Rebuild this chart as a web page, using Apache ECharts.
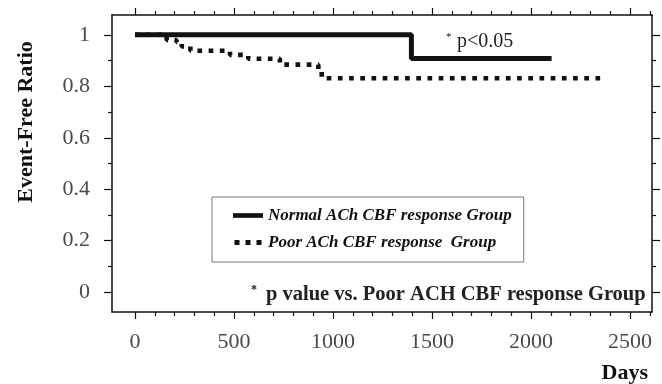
<!DOCTYPE html>
<html>
<head>
<meta charset="utf-8">
<script src="https://cdn.jsdelivr.net/npm/echarts@6/dist/echarts.min.js"></script>
<style>
  html, body { margin: 0; padding: 0; background: #fff; }
  #main { width: 662px; height: 384px; }
</style>
</head>
<body>
<div id="main"></div>
<script>
// Kaplan-Meier step curves (day, event-free ratio)
const normalDays = [0, 1396, 2104];
const normalRatio = [1, 0.908, 0.908];
const poorDays = [0, 160, 210, 236, 280, 480, 572, 732, 926, 943, 2382];
const poorRatio = [1, 0.98, 0.972, 0.955, 0.938, 0.922, 0.907, 0.884, 0.864, 0.831, 0.831];

const xMajor = [0, 500, 1000, 1500, 2000, 2500];
const xMinor = [100, 200, 300, 400, 600, 700, 800, 900, 1100, 1200, 1300, 1400,
                1600, 1700, 1800, 1900, 2100, 2200, 2300, 2400, 2600];
const yMajor = [0, 0.2, 0.4, 0.6, 0.8, 1];
const yMinor = [0.1, 0.3, 0.5, 0.7, 0.9];

const normalName = 'Normal ACh CBF response Group';
const poorName = 'Poor ACh CBF response  Group';

const serif = "'Liberation Serif', 'Times New Roman', serif";

function pairs(xs, ys) {
  return xs.map((x, i) => [x, ys[i]]);
}

function xAx(pos, values, len, main) {
  return {
    type: 'value', position: pos, min: -116, max: 2611,
    axisLine: { show: main, onZero: false, lineStyle: { color: '#111', width: 1.5 } },
    axisTick: { show: true, customValues: values, length: len, lineStyle: { color: '#111', width: 1.2 } },
    axisLabel: (main && pos === 'bottom')
      ? { show: true, customValues: xMajor, margin: 19, color: '#4a4a4a', fontFamily: serif, fontSize: 22,
          formatter: v => String(v) }
      : { show: false },
    splitLine: { show: false }
  };
}

function yAx(pos, values, len, main) {
  return {
    type: 'value', position: pos, min: -0.077, max: 1.077,
    axisLine: { show: main, onZero: false, lineStyle: { color: '#111', width: 1.5 } },
    axisTick: { show: true, customValues: values, length: len, lineStyle: { color: '#111', width: 1.2 } },
    axisLabel: (main && pos === 'left')
      ? { show: true, customValues: yMajor, margin: 22, color: '#4a4a4a', fontFamily: serif, fontSize: 22,
          formatter: v => String(v) }
      : { show: false },
    splitLine: { show: false }
  };
}

let chart = echarts.init(document.getElementById('main'));
chart.setOption({
  animation: false,
  backgroundColor: '#fff',
  grid: { left: 112, right: 10, top: 15, bottom: 72 },
  xAxis: [
    xAx('bottom', xMajor, 7, true),
    xAx('bottom', xMinor, 4, false),
    xAx('top', xMajor, 7, true),
    xAx('top', xMinor, 4, false)
  ],
  yAxis: [
    yAx('left', yMajor, 8, true),
    yAx('left', yMinor, 4, false),
    yAx('right', yMajor, 8, true),
    yAx('right', yMinor, 4, false)
  ],
  legend: {
    data: [
      { name: normalName, icon: 'path://M0,0H32V5H0Z' },
      { name: poorName, icon: 'path://M0,0H5V5H0Z M11,0H16V5H11Z M22,0H27V5H22Z' }
    ],
    orient: 'vertical',
    left: 212, top: 197,
    padding: [10, 12, 11, 21],
    itemGap: 10,
    itemWidth: 30, itemHeight: 5,
    borderColor: '#777', borderWidth: 1,
    textStyle: { fontFamily: serif, fontSize: 17, fontWeight: 'bold', fontStyle: 'italic', color: '#111' }
  },
  series: [
    {
      name: poorName,
      type: 'line',
      step: 'end',
      symbol: 'none',
      lineStyle: { color: '#111', width: 4.6, type: [4.7, 6.5] },
      itemStyle: { color: '#111' },
      data: pairs(poorDays, poorRatio)
    },
    {
      name: normalName,
      type: 'line',
      step: 'end',
      symbol: 'none',
      lineStyle: { color: '#111', width: 5 },
      itemStyle: { color: '#111' },
      data: pairs(normalDays, normalRatio)
    }
  ],
  graphic: [
    {
      type: 'text', x: 26, y: 122, rotation: Math.PI / 2,
      style: { text: 'Event-Free Ratio', font: 'bold 22px ' + serif, fill: '#111',
               textAlign: 'center', textVerticalAlign: 'middle' }
    },
    {
      type: 'text', x: 648, y: 373,
      style: { text: 'Days', font: 'bold 22px ' + serif, fill: '#111',
               textAlign: 'right', textVerticalAlign: 'middle' }
    },
    {
      type: 'text', x: 446, y: 37,
      style: { text: '*', font: '11px ' + serif, fill: '#111', textVerticalAlign: 'middle' }
    },
    {
      type: 'text', x: 457, y: 42,
      style: { text: 'p<0.05', font: '20px ' + serif, fill: '#222', textVerticalAlign: 'middle' }
    },
    {
      type: 'text', x: 251, y: 290,
      style: { text: '*', font: 'bold 12px ' + serif, fill: '#111', textVerticalAlign: 'middle' }
    },
    {
      type: 'text', x: 266, y: 295,
      style: { text: 'p value vs. Poor ACH CBF response Group', font: 'bold 20.5px ' + serif,
               fill: '#222', textVerticalAlign: 'middle' }
    }
  ]
});
window.onresize = function () {
  chart.resize();
};
</script>
</body>
</html>
